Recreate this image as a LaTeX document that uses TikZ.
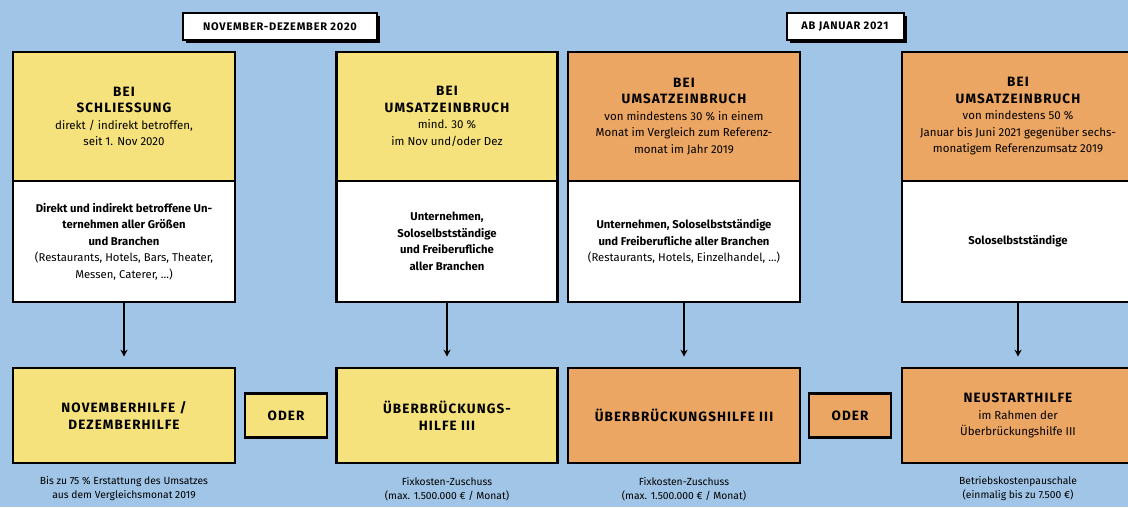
\documentclass[tikz,border=0pt]{standalone}
\usepackage{fontspec}
\setmainfont{Fira Sans}
\usetikzlibrary{arrows.meta,shadows}
\definecolor{bg}{HTML}{A0C5E6}
\definecolor{yel}{HTML}{F6E27C}
\definecolor{ora}{HTML}{ECA664}
\newcommand\hdline[1]{{\bfseries\addfontfeature{LetterSpace=8}\fontsize{13.5}{16.5}\selectfont #1}}
\newcommand\bdline[1]{{\bfseries #1}}
\tikzset{
  box/.style={draw=black, line width=2.6pt, inner sep=0pt, align=center,
    font=\fontsize{11.5}{16.5}\selectfont},
  headbox/.style={box, minimum height=129pt},
  bodybox/.style={box, fill=white, minimum height=121pt, font=\fontsize{11.3}{16.5}\selectfont},
  resbox/.style={box, minimum height=95pt},
  oderbox/.style={box, minimum width=82pt, minimum height=44pt},
  period/.style={draw=black, line width=2pt, fill=white, minimum height=27pt,
    inner sep=0pt, font=\bfseries\addfontfeature{LetterSpace=7}\fontsize{11}{13}\selectfont,
    drop shadow={shadow xshift=3pt, shadow yshift=-3pt, opacity=1, fill=black}},
  note/.style={align=center, inner sep=0pt, font=\fontsize{10.3}{14}\selectfont},
  arr/.style={line width=2pt, -{Stealth[length=7pt,width=7pt]}, shorten >=10pt}
}
\begin{document}
\begin{tikzpicture}[x=1pt,y=-1pt]
\useasboundingbox (0,0) rectangle (1128,507);
\clip (0,0) rectangle (1128,507);
\fill[bg] (0,0) rectangle (1128,507);

% period labels
\node[period, minimum width=194pt] (p1) at (280,26.5) {NOVEMBER-DEZEMBER 2020};
\node[period, minimum width=117pt] (p2) at (845,26.5) {AB JANUAR 2021};

% top boxes
\node[bodybox, minimum width=222pt] (b1) at (124,241.5)
  {\bdline{Direkt und indirekt betroffene Un-}\\\bdline{ternehmen aller Größen}\\\bdline{und Branchen}\\(Restaurants, Hotels, Bars, Theater,\\Messen, Caterer, ...)};
\node[headbox, fill=yel, minimum width=222pt] (h1) at (124,116.5)
  {\hdline{BEI}\\\hdline{SCHLIESSUNG}\\direkt / indirekt betroffen,\\seit 1. Nov 2020};

\node[bodybox, minimum width=221pt] (b2) at (447,241.5)
  {\bdline{Unternehmen,}\\\bdline{Soloselbstständige}\\\bdline{und Freiberufliche}\\\bdline{aller Branchen}};
\node[headbox, fill=yel, minimum width=221pt] (h2) at (447,116.5)
  {\hdline{BEI}\\\hdline{UMSATZEINBRUCH}\\mind. 30 \%\\im Nov und/oder Dez};

\node[bodybox, minimum width=232pt] (b3) at (684,241.5)
  {\bdline{Unternehmen, Soloselbstständige}\\\bdline{und Freiberufliche aller Branchen}\\(Restaurants, Hotels, Einzelhandel, ...)};
\node[headbox, fill=ora, minimum width=232pt] (h3) at (684,116.5)
  {\hdline{BEI}\\\hdline{UMSATZEINBRUCH}\\von mindestens 30 \% in einem\\Monat im Vergleich zum Referenz-\\monat im Jahr 2019};

\node[bodybox, minimum width=232pt] (b4) at (1018,241.5)
  {\bdline{Soloselbstständige}};
\node[headbox, fill=ora, minimum width=232pt] (h4) at (1018,116.5)
  {\hdline{BEI}\\\hdline{UMSATZEINBRUCH}\\von mindestens 50 \%\\Januar bis Juni 2021 gegenüber sechs-\\monatigem Referenzumsatz 2019};

% result boxes
\node[resbox, fill=yel, minimum width=222pt] (n1) at (124,415.5)
  {\hdline{NOVEMBERHILFE /}\\\hdline{DEZEMBERHILFE}};
\node[oderbox, fill=yel] (o1) at (286,415.5) {\hdline{ODER}};
\node[resbox, fill=yel, minimum width=221pt] (n2) at (447,415.5)
  {\hdline{ÜBERBRÜCKUNGS-}\\\hdline{HILFE III}};
\node[resbox, fill=ora, minimum width=232pt] (n3) at (684,415.5)
  {\hdline{ÜBERBRÜCKUNGSHILFE III}};
\node[oderbox, fill=ora] (o2) at (850,415.5) {\hdline{ODER}};
\node[resbox, fill=ora, minimum width=232pt] (n4) at (1018,415.5)
  {\hdline{NEUSTARTHILFE}\\im Rahmen der\\Überbrückungshilfe III};

% arrows
\draw[arr] (b1.south) -- (n1.north);
\draw[arr] (b2.south) -- (n2.north);
\draw[arr] (b3.south) -- (n3.north);
\draw[arr] (b4.south) -- (n4.north);

% notes
\node[note] (t1) at (124,489) {Bis zu 75 \% Erstattung des Umsatzes\\aus dem Vergleichsmonat 2019};
\node[note] (t2) at (447,489) {Fixkosten-Zuschuss\\(max. 1.500.000 € / Monat)};
\node[note] (t3) at (684,489) {Fixkosten-Zuschuss\\(max. 1.500.000 € / Monat)};
\node[note] (t4) at (1018,489) {Betriebskostenpauschale\\(einmalig bis zu 7.500 €)};
\end{tikzpicture}
\end{document}
